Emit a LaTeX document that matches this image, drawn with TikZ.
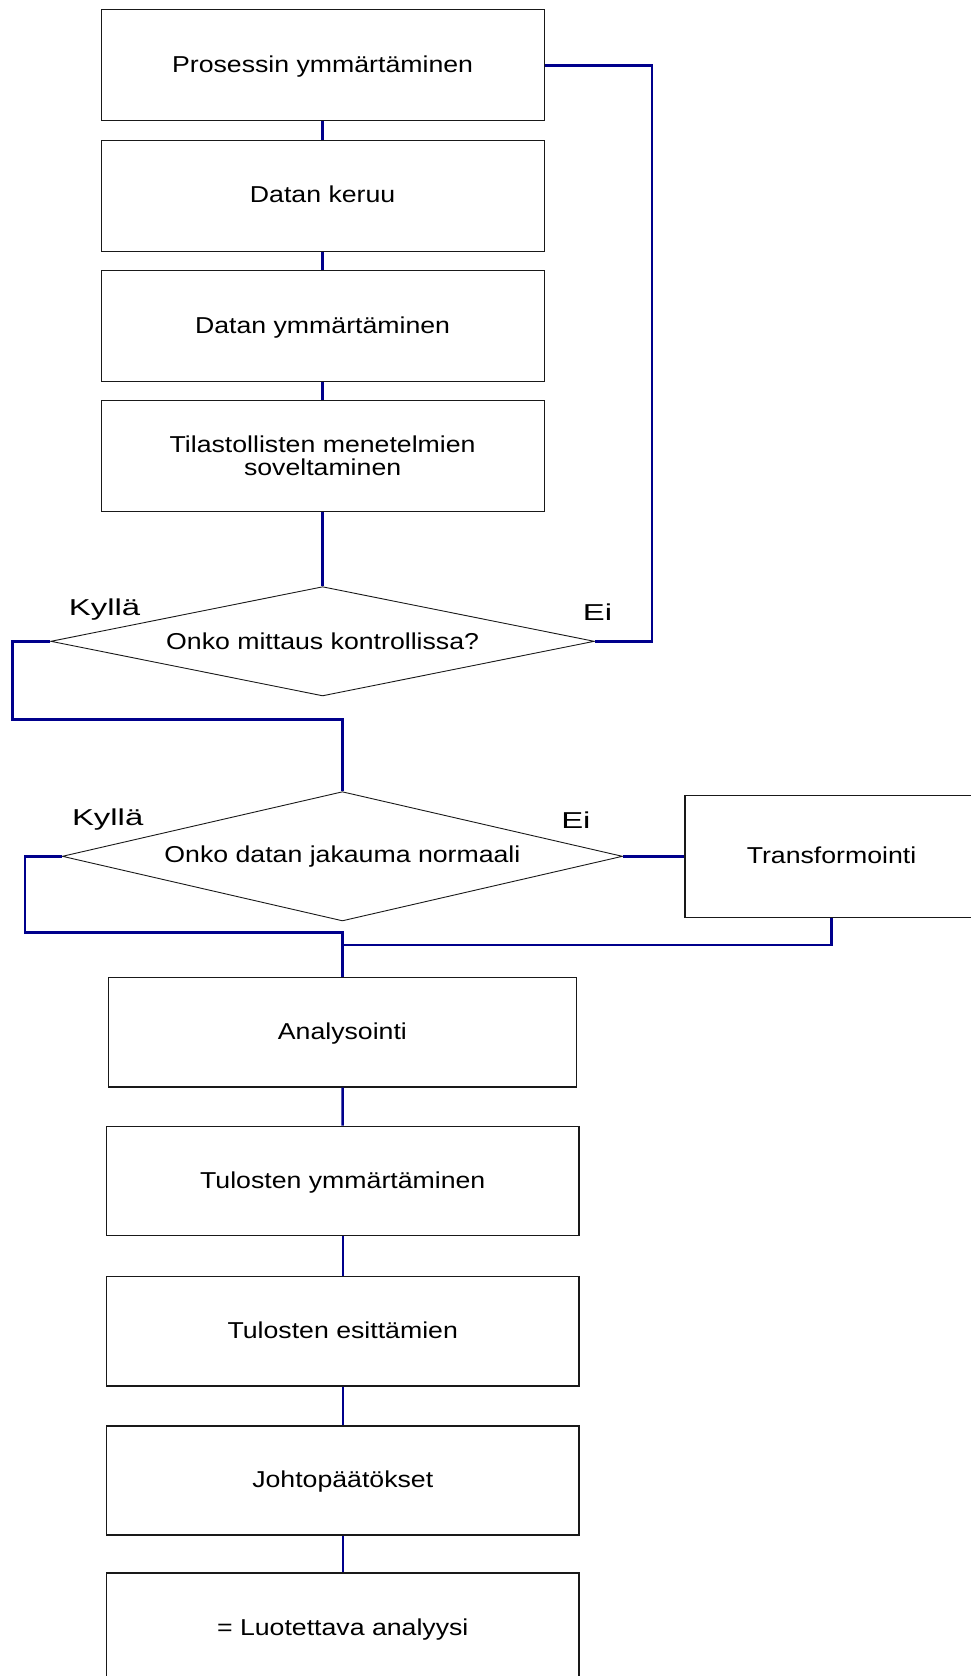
\documentclass[tikz,border=0pt]{standalone}
\usepackage{fontspec}
\setmainfont{Liberation Sans}
\newfontfamily\boxfont{Liberation Sans}[FakeStretch=1.16]
\newfontfamily\labfont{Liberation Sans}[FakeStretch=1.43]
\usetikzlibrary{shapes.geometric}
\definecolor{conn}{RGB}{0,0,140}
\begin{document}
\begin{tikzpicture}[x=1pt,y=-1pt,
  boxbase/.style={draw=black!90, line width=1.1pt, inner sep=0pt, align=center,
    minimum height=111pt, font=\boxfont\fontsize{23}{23.5}\selectfont},
  box/.style={boxbase, text height=16pt, text depth=1.5pt},
  topbox/.style={box, minimum width=443pt},
  botbox/.style={box, minimum width=472.5pt},
  dia/.style={diamond, draw=black!90, line width=0.9pt, inner sep=0pt},
  diatext/.style={font=\boxfont\fontsize{23}{23.5}\selectfont},
  lab/.style={anchor=base, inner sep=0pt, font=\labfont\fontsize{23}{23}\selectfont},
  link/.style={draw=conn, line width=2.5pt}
]
\useasboundingbox (0,0) rectangle (971,1676);

% top boxes
\node[topbox] (b1) at (322.6,65.4) {Prosessin ymmärtäminen};
\node[topbox] (b2) at (322.6,195.7) {Datan keruu};
\node[topbox] (b3) at (322.6,326) {Datan ymmärtäminen};
\node[boxbase, minimum width=443pt] (b4) at (322.6,456) {Tilastollisten menetelmien\\soveltaminen};

% decision 1
\node[dia, minimum width=543.6pt, minimum height=109.3pt] (d1) at (322.6,641.3) {};
\node[diatext] (d1t) at (d1.center) {Onko mittaus kontrollissa?};
\node[lab] (ky1) at (104.6,615) {Kyllä};
\node[lab] (ei1) at (597.6,620) {Ei};

% decision 2
\node[dia, minimum width=560.3pt, minimum height=129.3pt] (d2) at (342.4,856.3) {};
\node[diatext] (d2t) at (d2.center) {Onko datan jakauma normaali};
\node[lab] (ky2) at (107.7,825.7) {Kyllä};
\node[lab] (ei2) at (575.9,828.3) {Ei};

% transform box
\node[box, minimum width=293pt, minimum height=122.3pt] (tr) at (831.5,856.2) {Transformointi};

% bottom boxes
\node[box, minimum width=468pt, minimum height=109.5pt] (an) at (342.4,1032.2) {Analysointi};
\node[botbox, minimum height=109.8pt] (ty) at (342.75,1181) {Tulosten ymmärtäminen};
\node[botbox, minimum height=109.4pt] (te) at (342.75,1331.3) {Tulosten esittämien};
\node[botbox, minimum height=109pt] (jo) at (342.75,1480.5) {Johtopäätökset};
\node[botbox] (lu) at (342.75,1628.5) {= Luotettava analyysi};

% helper coordinates
\coordinate (c1) at (12.4,719.3);
\coordinate (c2) at (24.8,932.7);
\coordinate (c3) at (342.4,945);

% connectors
\draw[link] (b1) -- (b2);
\draw[link] (b2) -- (b3);
\draw[link] (b3) -- (b4);
\draw[link] (b4) -- (d1.north);
\draw[link] (d1.east) -- ++(57,0) |- (b1.east);
\draw[link] (d1.west) -| (c1) -| (d2.north);
\draw[link] (d2.west) -| (c2) -| (an.north);
\draw[link] (d2.east) -- (d2.east -| tr.west);
\draw[link] (tr.south) |- (c3);
\draw[link] (an) -- (ty);
\draw[link] (ty) -- (te);
\draw[link] (te) -- (jo);
\draw[link] (jo) -- (lu);
\end{tikzpicture}
\end{document}
